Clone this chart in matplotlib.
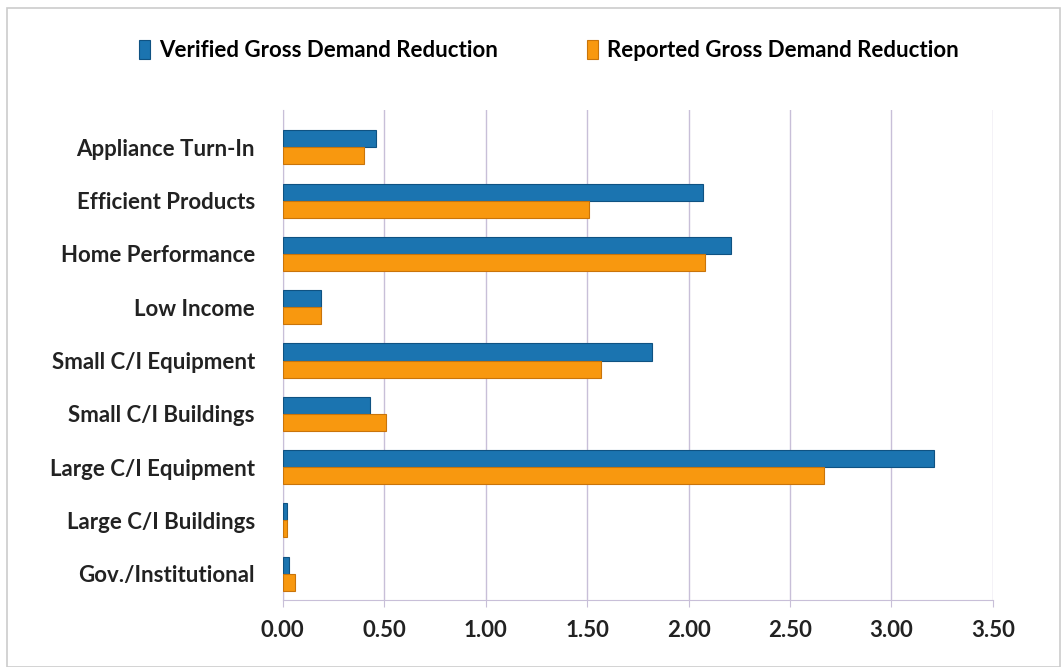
import numpy as np
import matplotlib.pyplot as plt
from matplotlib.patches import Rectangle

# Program categories (top to bottom) and values
programs = [
    "Appliance Turn-In",
    "Efficient Products",
    "Home Performance",
    "Low Income",
    "Small C/I Equipment",
    "Small C/I Buildings",
    "Large C/I Equipment",
    "Large C/I Buildings",
    "Gov./Institutional",
]
verified = [0.46, 2.07, 2.21, 0.19, 1.82, 0.43, 3.21, 0.02, 0.03]
reported = [0.40, 1.51, 2.08, 0.19, 1.57, 0.51, 2.67, 0.02, 0.06]
x_ticks = [0.0, 0.5, 1.0, 1.5, 2.0, 2.5, 3.0, 3.5]

blue = "#1b74b0"
orange = "#f8980f"
font = ["Lato", "DejaVu Sans"]

fig = plt.figure(figsize=(10.63, 6.67), dpi=100)
ax = fig.add_axes([0.266, 0.10, 0.668, 0.735])

y = np.arange(len(programs))
h = 0.32
ax.barh(y - h / 2, verified, height=h, color=blue, edgecolor="#0f5282",
        linewidth=0.8, label="Verified Gross Demand Reduction", zorder=3)
ax.barh(y + h / 2, reported, height=h, color=orange, edgecolor="#c9740a",
        linewidth=0.8, label="Reported Gross Demand Reduction", zorder=3)

ax.set_ylim(8.5, -0.7)
ax.set_xlim(0, 3.5)
ax.set_yticks(y)
ax.set_yticklabels(programs, family=font, fontsize=16, fontweight="bold",
                   color="#222222")
ax.set_xticks(x_ticks)
ax.set_xticklabels([f"{v:.2f}" for v in x_ticks], family=font, fontsize=16,
                   fontweight="bold", color="#222222")
ax.tick_params(axis="y", length=0, pad=20)
ax.tick_params(axis="x", length=5, color="#c8bfd8", pad=9)

ax.grid(axis="x", color="#c8bfd8", linewidth=1, zorder=0)
for side in ["top", "right"]:
    ax.spines[side].set_visible(False)
for side in ["left", "bottom"]:
    ax.spines[side].set_color("#c8bfd8")

fig.legend(loc="upper center", bbox_to_anchor=(0.516, 0.97), ncol=2,
           frameon=False, handlelength=0.5, handleheight=0.9,
           columnspacing=4, handletextpad=0.4,
           prop={"family": font, "size": 16, "weight": "bold"})

# light chart-area border
fig.patches.append(Rectangle((0.007, 0.0), 0.99, 0.988, transform=fig.transFigure,
                             fill=False, edgecolor="#cccccc", linewidth=1.2))

fig.savefig("out.png", dpi=100)
